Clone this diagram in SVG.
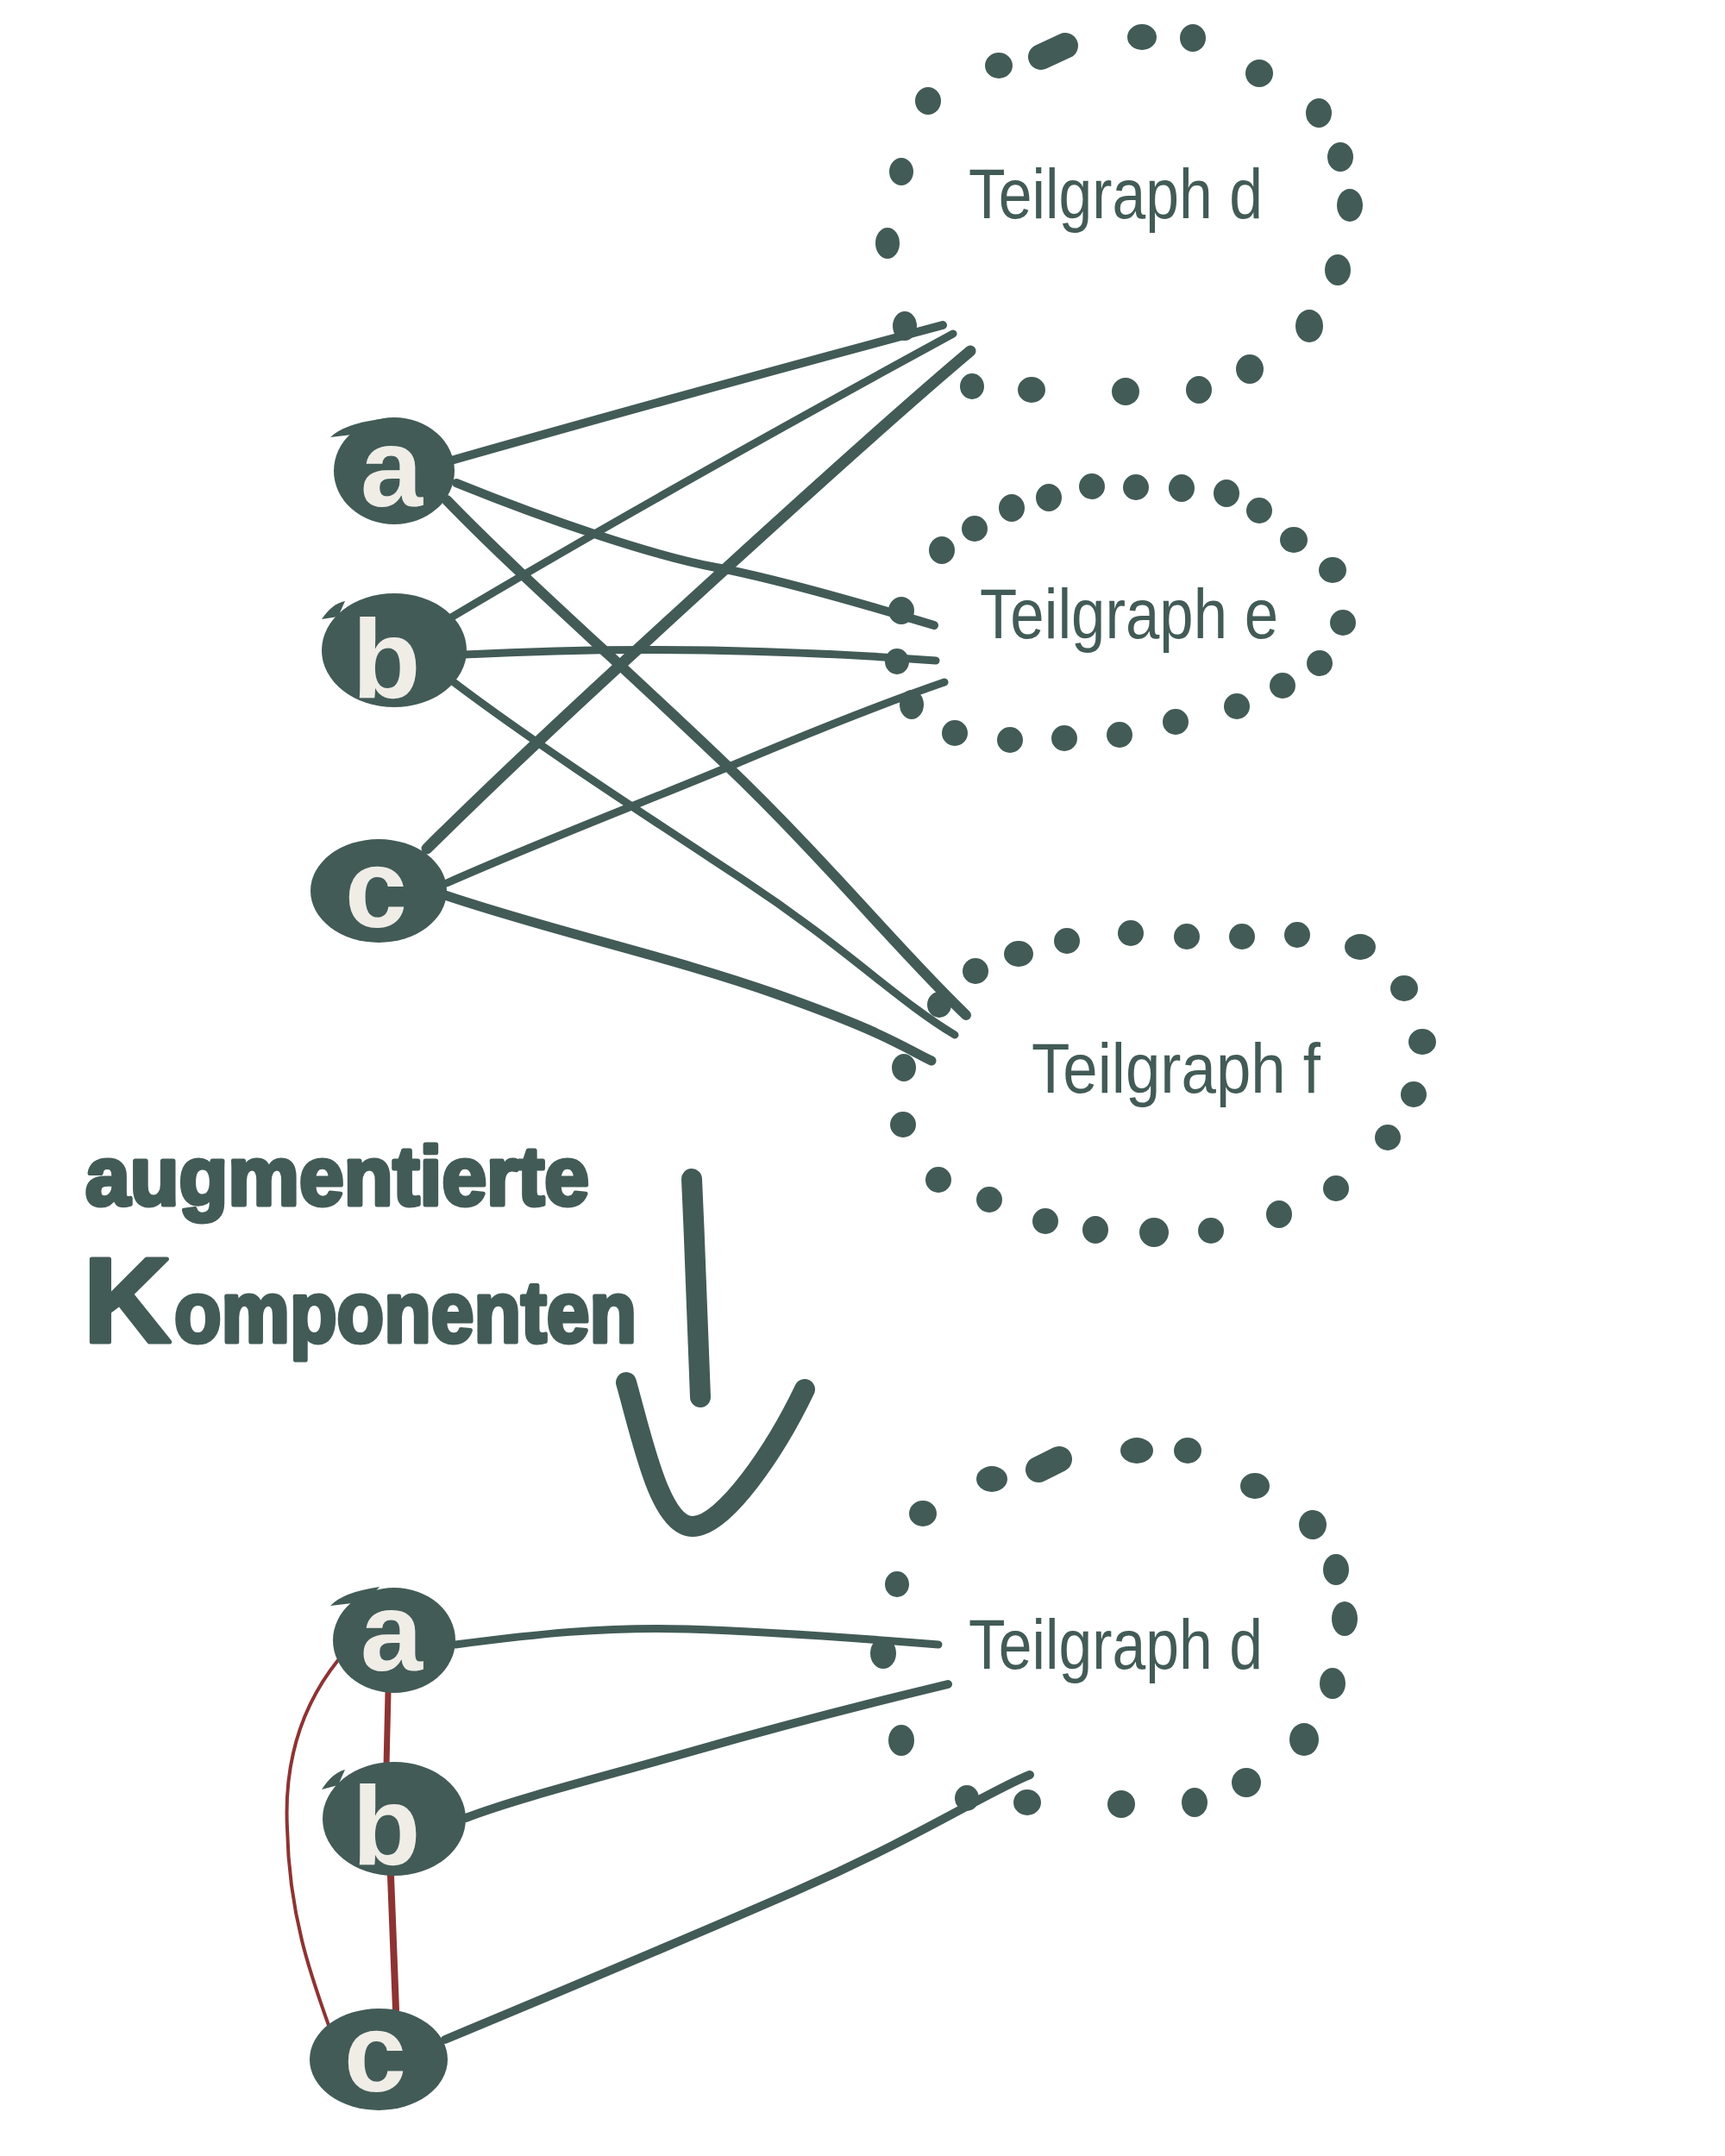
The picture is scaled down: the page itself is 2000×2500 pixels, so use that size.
<svg xmlns="http://www.w3.org/2000/svg" width="2000" height="2500" viewBox="0 0 2000 2500">
<style>
.dot{fill:#425b57}
.dash{stroke:#425b57;stroke-width:30;stroke-linecap:round;fill:none}
.blob{fill:#425b57}
.letter{fill:#f0ede7;font-family:"Liberation Sans","DejaVu Sans",sans-serif;font-weight:bold;font-size:130px;text-anchor:middle}
.label{fill:#425b57;font-family:"Liberation Sans","DejaVu Sans",sans-serif;font-size:82px}
.hand{fill:#425b57;stroke:#425b57;stroke-width:5;stroke-linejoin:round;font-family:"Liberation Sans","DejaVu Sans",sans-serif;font-weight:bold}
.edge{fill:none;stroke:#425b57;stroke-linecap:round;stroke-linejoin:round}
.red{fill:none;stroke:#8e3333;stroke-linecap:round}
.arrow{fill:none;stroke:#425b57;stroke-width:24;stroke-linecap:round;stroke-linejoin:round}
</style>
<rect width="2000" height="2500" fill="#ffffff"/>

<g id="connectors">
  <!-- top: a -->
  <path class="edge" stroke-width="10" d="M523,534 Q790,458 1093,377"/>
  <path class="edge" stroke-width="10" d="M529,560 C640,605 760,645 830,658 S1000,700 1083,725"/>
  <path class="edge" stroke-width="12" d="M518,580 C600,665 720,770 840,885 S1040,1100 1120,1177"/>
  <!-- top: b -->
  <path class="edge" stroke-width="9" d="M518,719 Q760,575 1105,387"/>
  <path class="edge" stroke-width="9" d="M539,759 Q800,745 1085,766"/>
  <path class="edge" stroke-width="9" d="M526,791 C620,862 740,940 860,1019 S1040,1160 1107,1200"/>
  <!-- top: c -->
  <path class="edge" stroke-width="13" d="M495,984 C600,880 720,770 845,656 S1050,470 1125,407"/>
  <path class="edge" stroke-width="9" d="M518,1024 C640,970 760,925 850,887 S1040,810 1095,791"/>
  <path class="edge" stroke-width="11" d="M513,1037 C640,1080 780,1110 901,1153 S1040,1210 1080,1230"/>
  <!-- bottom -->
  <path class="edge" stroke-width="9" d="M528,1907 C620,1895 700,1886 798,1889 S1000,1900 1088,1907"/>
  <path class="edge" stroke-width="10" d="M540,2108 C600,2085 700,2060 798,2032 S1020,1972 1099,1953"/>
  <path class="edge" stroke-width="10" d="M516,2365 C600,2330 780,2255 922,2193 S1150,2075 1194,2058"/>
  <path class="red" stroke-width="7" d="M450,1962 L448,2048"/>
  <path class="red" stroke-width="8" d="M453,2175 L459,2330"/>
  <path class="red" stroke-width="4" d="M392,1925 C340,1990 330,2060 333,2120 C335,2220 360,2290 383,2354"/>
</g>

<g id="subgraph-d">
  <ellipse class="dot" cx="1076" cy="117" rx="15" ry="16"/>
  <ellipse class="dot" cx="1045" cy="199" rx="14" ry="16"/>
  <ellipse class="dot" cx="1029" cy="282" rx="14" ry="18"/>
  <ellipse class="dot" cx="1158" cy="76" rx="16" ry="15"/>
  <path class="dash" d="M1207,66 L1235,53"/>
  <ellipse class="dot" cx="1324" cy="43" rx="17" ry="15"/>
  <ellipse class="dot" cx="1383" cy="44" rx="15" ry="16"/>
  <ellipse class="dot" cx="1460" cy="85" rx="16" ry="16"/>
  <ellipse class="dot" cx="1529" cy="131" rx="15" ry="17"/>
  <ellipse class="dot" cx="1554" cy="182" rx="15" ry="17"/>
  <ellipse class="dot" cx="1565" cy="238" rx="15" ry="19"/>
  <ellipse class="dot" cx="1551" cy="313" rx="15" ry="18"/>
  <ellipse class="dot" cx="1518" cy="378" rx="16" ry="19"/>
  <ellipse class="dot" cx="1449" cy="428" rx="16" ry="17"/>
  <ellipse class="dot" cx="1390" cy="452" rx="15" ry="16"/>
  <ellipse class="dot" cx="1305" cy="454" rx="16" ry="16"/>
  <ellipse class="dot" cx="1196" cy="452" rx="16" ry="15"/>
  <ellipse class="dot" cx="1127" cy="448" rx="14" ry="15"/>
  <ellipse class="dot" cx="1049" cy="378" rx="14" ry="17"/>
  <text class="label" x="1123" y="253" textLength="341" lengthAdjust="spacingAndGlyphs">Teilgraph d</text>
</g>

<g id="subgraph-e">
  <ellipse class="dot" cx="1092" cy="638" rx="15" ry="16"/>
  <ellipse class="dot" cx="1130" cy="613" rx="15" ry="15"/>
  <ellipse class="dot" cx="1173" cy="589" rx="15" ry="16"/>
  <ellipse class="dot" cx="1216" cy="577" rx="15" ry="16"/>
  <ellipse class="dot" cx="1266" cy="564" rx="15" ry="15"/>
  <ellipse class="dot" cx="1317" cy="565" rx="15" ry="15"/>
  <ellipse class="dot" cx="1370" cy="566" rx="15" ry="16"/>
  <ellipse class="dot" cx="1422" cy="572" rx="15" ry="16"/>
  <ellipse class="dot" cx="1460" cy="592" rx="15" ry="15"/>
  <ellipse class="dot" cx="1500" cy="626" rx="16" ry="15"/>
  <ellipse class="dot" cx="1545" cy="661" rx="16" ry="15"/>
  <ellipse class="dot" cx="1557" cy="722" rx="15" ry="15"/>
  <ellipse class="dot" cx="1530" cy="769" rx="15" ry="15"/>
  <ellipse class="dot" cx="1487" cy="795" rx="15" ry="15"/>
  <ellipse class="dot" cx="1434" cy="819" rx="15" ry="15"/>
  <ellipse class="dot" cx="1363" cy="837" rx="15" ry="15"/>
  <ellipse class="dot" cx="1298" cy="852" rx="15" ry="15"/>
  <ellipse class="dot" cx="1234" cy="856" rx="15" ry="15"/>
  <ellipse class="dot" cx="1171" cy="858" rx="15" ry="15"/>
  <ellipse class="dot" cx="1107" cy="850" rx="15" ry="15"/>
  <ellipse class="dot" cx="1045" cy="708" rx="15" ry="16"/>
  <ellipse class="dot" cx="1040" cy="767" rx="14" ry="15"/>
  <ellipse class="dot" cx="1057" cy="817" rx="14" ry="17"/>
  <text class="label" x="1136" y="740" textLength="346" lengthAdjust="spacingAndGlyphs">Teilgraph e</text>
</g>

<g id="subgraph-f">
  <ellipse class="dot" cx="1131" cy="1126" rx="15" ry="15"/>
  <ellipse class="dot" cx="1181" cy="1106" rx="17" ry="15"/>
  <ellipse class="dot" cx="1237" cy="1091" rx="15" ry="15"/>
  <ellipse class="dot" cx="1311" cy="1082" rx="15" ry="15"/>
  <ellipse class="dot" cx="1376" cy="1086" rx="15" ry="15"/>
  <ellipse class="dot" cx="1440" cy="1086" rx="15" ry="15"/>
  <ellipse class="dot" cx="1504" cy="1084" rx="15" ry="15"/>
  <ellipse class="dot" cx="1577" cy="1098" rx="18" ry="15"/>
  <ellipse class="dot" cx="1628" cy="1146" rx="16" ry="15"/>
  <ellipse class="dot" cx="1649" cy="1208" rx="16" ry="15"/>
  <ellipse class="dot" cx="1639" cy="1269" rx="15" ry="15"/>
  <ellipse class="dot" cx="1609" cy="1319" rx="15" ry="15"/>
  <ellipse class="dot" cx="1549" cy="1378" rx="15" ry="15"/>
  <ellipse class="dot" cx="1483" cy="1408" rx="15" ry="16"/>
  <ellipse class="dot" cx="1404" cy="1427" rx="15" ry="15"/>
  <ellipse class="dot" cx="1338" cy="1429" rx="17" ry="17"/>
  <ellipse class="dot" cx="1270" cy="1426" rx="15" ry="16"/>
  <ellipse class="dot" cx="1212" cy="1416" rx="15" ry="15"/>
  <ellipse class="dot" cx="1147" cy="1391" rx="15" ry="15"/>
  <ellipse class="dot" cx="1088" cy="1368" rx="15" ry="15"/>
  <ellipse class="dot" cx="1047" cy="1304" rx="15" ry="15"/>
  <ellipse class="dot" cx="1048" cy="1238" rx="14" ry="16"/>
  <ellipse class="dot" cx="1089" cy="1165" rx="14" ry="15"/>
  <text class="label" x="1196" y="1267" textLength="335" lengthAdjust="spacingAndGlyphs">Teilgraph f</text>
</g>

<g id="subgraph-d2">
  <ellipse class="dot" cx="1070" cy="1755" rx="16" ry="15"/>
  <ellipse class="dot" cx="1040" cy="1837" rx="14" ry="15"/>
  <ellipse class="dot" cx="1045" cy="2018" rx="15" ry="18"/>
  <ellipse class="dot" cx="1150" cy="1715" rx="18" ry="15"/>
  <path class="dash" d="M1204,1704 L1228,1692"/>
  <ellipse class="dot" cx="1318" cy="1682" rx="19" ry="15"/>
  <ellipse class="dot" cx="1377" cy="1682" rx="16" ry="15"/>
  <ellipse class="dot" cx="1455" cy="1723" rx="17" ry="15"/>
  <ellipse class="dot" cx="1522" cy="1768" rx="16" ry="17"/>
  <ellipse class="dot" cx="1549" cy="1820" rx="15" ry="18"/>
  <ellipse class="dot" cx="1559" cy="1877" rx="15" ry="20"/>
  <ellipse class="dot" cx="1545" cy="1952" rx="15" ry="18"/>
  <ellipse class="dot" cx="1512" cy="2017" rx="17" ry="19"/>
  <ellipse class="dot" cx="1445" cy="2067" rx="17" ry="17"/>
  <ellipse class="dot" cx="1385" cy="2090" rx="15" ry="17"/>
  <ellipse class="dot" cx="1300" cy="2092" rx="16" ry="16"/>
  <ellipse class="dot" cx="1191" cy="2090" rx="16" ry="15"/>
  <ellipse class="dot" cx="1024" cy="1917" rx="15" ry="18"/>
  <ellipse class="dot" cx="1121" cy="2085" rx="14" ry="15"/>
  <text class="label" x="1123" y="1935" textLength="341" lengthAdjust="spacingAndGlyphs">Teilgraph d</text>
</g>

<g id="node-a">
  <ellipse class="blob" cx="457" cy="546" rx="70" ry="62"/>
  <path class="blob" d="M383,507 Q398,492 440,486 L425,502 Z"/>
  <text class="letter" x="454" y="587">a</text>
</g>
<g id="node-b">
  <ellipse class="blob" cx="457" cy="754" rx="84" ry="66"/>
  <path class="blob" d="M373,718 Q385,700 400,697 L392,715 Z"/>
  <text class="letter" x="448" y="809">b</text>
</g>
<g id="node-c">
  <ellipse class="blob" cx="439" cy="1033" rx="79" ry="60"/>
  <path class="blob" d="M405,985 Q430,975 460,977 L440,990 Z"/>
  <text class="letter" x="436" y="1075">c</text>
</g>

<g id="node-a2">
  <ellipse class="blob" cx="457" cy="1902" rx="71" ry="61"/>
  <path class="blob" d="M383,1862 Q398,1846 440,1840 L425,1857 Z"/>
  <text class="letter" x="454" y="1937">a</text>
</g>
<g id="node-b2">
  <ellipse class="blob" cx="457" cy="2109" rx="83" ry="66"/>
  <path class="blob" d="M373,2075 Q385,2056 400,2052 L392,2070 Z"/>
  <text class="letter" x="448" y="2162">b</text>
</g>
<g id="node-c2">
  <ellipse class="blob" cx="439" cy="2388" rx="80" ry="59"/>
  <path class="blob" d="M405,2338 Q430,2328 460,2330 L440,2344 Z"/>
  <text class="letter" x="435" y="2425">c</text>
</g>

<g id="annotation">
  <text class="hand" x="99" y="1397" font-size="96" textLength="584" lengthAdjust="spacingAndGlyphs">augmentierte</text>
  <text class="hand" y="1556"><tspan x="97" font-size="140">K</tspan><tspan x="202" font-size="100" textLength="536" lengthAdjust="spacingAndGlyphs">omponenten</tspan></text>
</g>

<g id="arrow">
  <path class="arrow" d="M802,1367 C806,1450 808,1530 812,1620"/>
  <path class="arrow" d="M726,1603 C745,1670 765,1770 803,1770 C840,1770 900,1680 933,1611"/>
</g>
</svg>
